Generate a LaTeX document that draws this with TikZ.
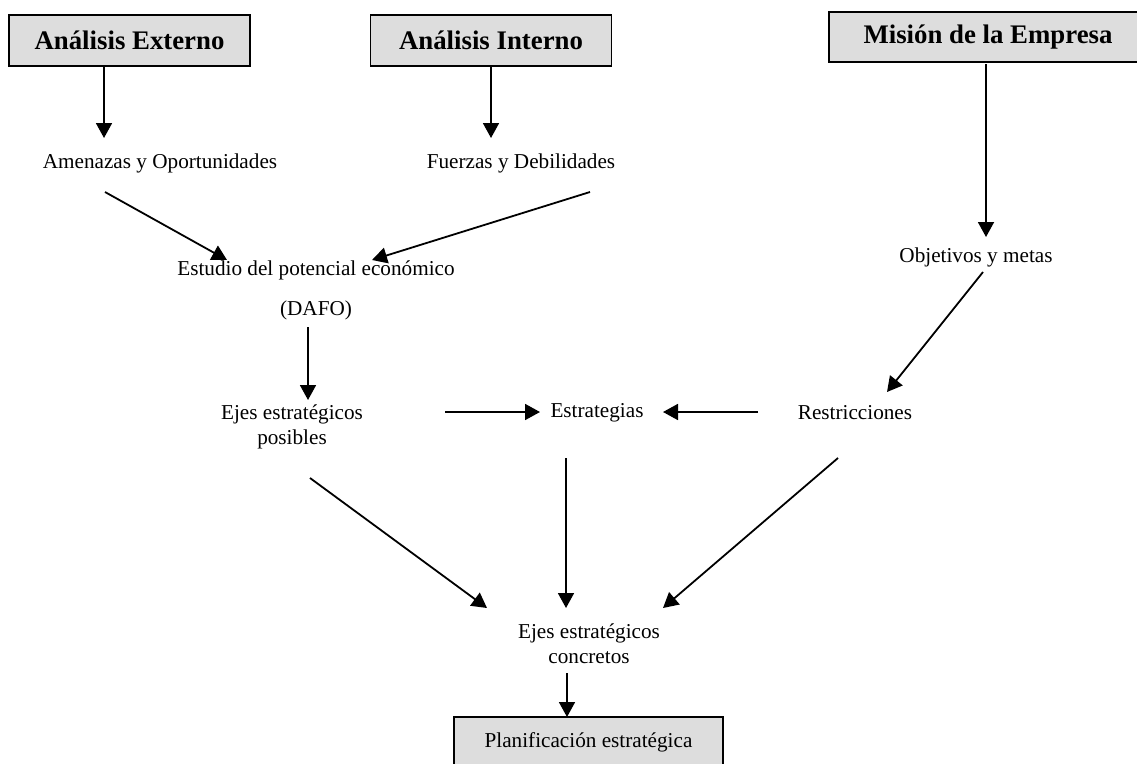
\documentclass[tikz,border=0pt]{standalone}
\usepackage{fontspec}
\setmainfont{Liberation Serif}
\usetikzlibrary{arrows.meta}
\usetikzlibrary{positioning}
\usetikzlibrary{calc}
\definecolor{gris}{HTML}{DDDDDD}

\tikzset{
  caja/.style={draw,line width=1.6pt,fill=gris,font=\fontsize{26.8}{30}\selectfont\bfseries,minimum height=51pt,inner sep=0pt},
  cajafin/.style={caja,font=\fontsize{21.2}{25}\selectfont},
  etiqueta/.style={font=\fontsize{21.2}{25}\selectfont,align=center,inner sep=0pt},
  flecha/.style={line width=1.8pt,-{Triangle[length=15pt,width=16pt]}}
}

\begin{document}
\begin{tikzpicture}[x=1pt,y=-1pt]
\useasboundingbox (0,0) rectangle (1137,763);

    % cajas superiores
    \node[caja,minimum width=241pt] (externo) at (129.5,40.5) {Análisis Externo};
    \node[caja,minimum width=241pt] (interno) at (491,40.5) {Análisis Interno};
    \node[caja,minimum width=318pt,minimum height=50pt] (mision) at (988,37) {Misión de la Empresa};

    \node[etiqueta] (amenazas) at (160,163) {Amenazas y Oportunidades};
    \node[etiqueta] (fuerzas) at (521,163) {Fuerzas y Debilidades};
    \node[etiqueta] (objetivos) at (976,257) {Objetivos y metas};
    \node[etiqueta] (estudio) at (316,270) {Estudio del potencial económico};
    \node[etiqueta] (dafo) at (316,310) {(DAFO)};
    \node[etiqueta] (posibles) at (292,427) {Ejes estratégicos\\posibles};
    \node[etiqueta] (estrategias) at (597,413) {Estrategias};
    \node[etiqueta] (restricciones) at (855,413) {Restricciones};
    \node[etiqueta] (concretos) at (589,644) {Ejes estratégicos\\concretos};
    \node[cajafin,minimum width=269pt,minimum height=50pt] (plan) at (588.5,742) {Planificación estratégica};

    % flechas
    \draw[flecha] ($(externo)+(-25.5,25.5)$) -- ($(amenazas)+(-56,-25)$);
    \draw[flecha] ($(interno)+(0,26)$) -- ($(fuerzas)+(-30,-25)$);
    \draw[flecha] ($(mision)+(-2,27)$) -- ($(objetivos)+(10,-20)$);
    \draw[flecha] ($(amenazas)+(-55,29)$) -- ($(estudio)+(-89,-10)$);
    \draw[flecha] ($(fuerzas)+(69,29)$) -- ($(estudio)+(56,-10)$);
    \draw[flecha] ($(dafo)+(-8,17)$) -- ($(posibles)+(16,-27)$);
    \draw[flecha] ($(posibles)+(153,-15)$) -- ($(estrategias)+(-57,-1)$);
    \draw[flecha] ($(restricciones)+(-97,-1)$) -- ($(estrategias)+(66,-1)$);
    \draw[flecha] ($(objetivos)+(7,15)$) -- ($(restricciones)+(32,-21)$);
    \draw[flecha] ($(posibles)+(18,51)$) -- ($(concretos)+(-102,-36)$);
    \draw[flecha] ($(estrategias)+(-31,45)$) -- ($(concretos)+(-23,-36)$);
    \draw[flecha] ($(restricciones)+(-17,45)$) -- ($(concretos)+(74,-36)$);
    \draw[flecha] ($(concretos)+(-22,29)$) -- ($(plan)+(-21.5,-25)$);

\end{tikzpicture}
\end{document}
